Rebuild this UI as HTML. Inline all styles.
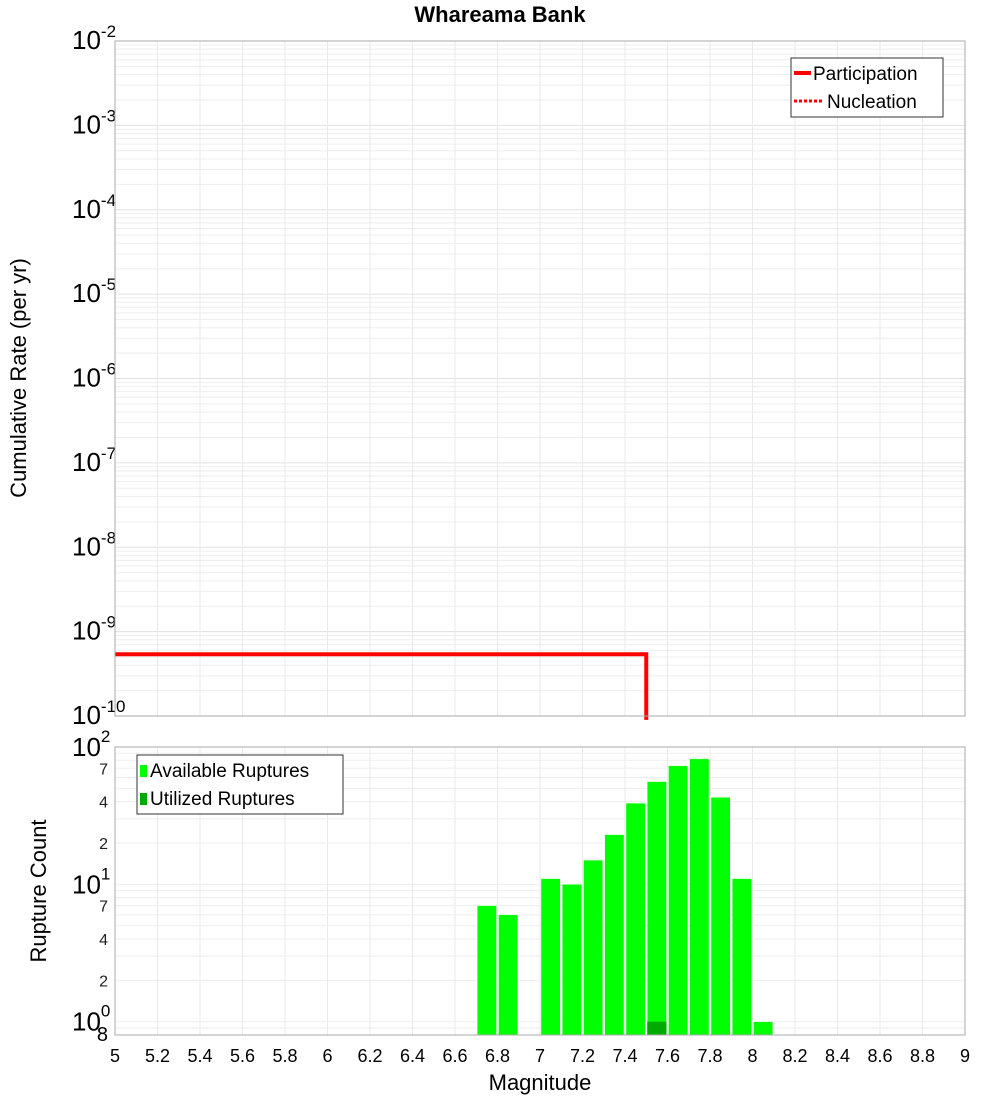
<!DOCTYPE html>
<html><head><meta charset="utf-8"><style>
body{margin:0;background:#fff;}
svg text{font-family:"Liberation Sans","DejaVu Sans",sans-serif;}
</style></head><body>
<svg id="c" width="1000" height="1100" xmlns="http://www.w3.org/2000/svg">
<text x="500" y="22" text-anchor="middle" font-size="22" font-weight="bold">Whareama Bank</text>
<g id="topg"></g>
<g id="botg"></g>
<text transform="translate(26,378) rotate(-90)" text-anchor="middle" font-size="22">Cumulative Rate (per yr)</text>
<text transform="translate(46,891) rotate(-90)" text-anchor="middle" font-size="22">Rupture Count</text>
<text x="540" y="1090" text-anchor="middle" font-size="22">Magnitude</text>
</svg>
<script>
const xTicks=[5,5.2,5.4,5.6,5.8,6,6.2,6.4,6.6,6.8,7,7.2,7.4,7.6,7.8,8,8.2,8.4,8.6,8.8,9];
const rateExps=[-2,-3,-4,-5,-6,-7,-8,-9,-10];
const partMags=[5,7.5,7.5];
const partRates=[5.4e-10,5.4e-10,9e-11];
const binCenters=[6.75,6.85,7.05,7.15,7.25,7.35,7.45,7.55,7.65,7.75,7.85,7.95,8.05];
const availCounts=[7,6,11,10,15,23,39,56,73,82,43,11,1];
const utilCenters=[7.55];
const utilCounts=[1];
const countMinorLabels=[2,4,7];

const NS="http://www.w3.org/2000/svg";
const X0=115,X1=965;
const T0=41,T1=716,B0=747,B1=1035;
const xs=m=>X0+(m-5)/4*(X1-X0);
const ysTop=v=>T1-(Math.log10(v)+10)/8*(T1-T0);
const ysBot=v=>B1-(Math.log10(v)-Math.log10(0.8))/(2-Math.log10(0.8))*(B1-B0);
function mk(p,t,a){const e=document.createElementNS(NS,t);for(const k in a)e.setAttribute(k,a[k]);p.appendChild(e);return e;}
const gTop=document.getElementById('topg'),gBot=document.getElementById('botg');

for(let d=-10;d<-2;d++)for(let k=1;k<10;k++){const y=ysTop(k*Math.pow(10,d));
 const l=mk(gTop,'line',{x1:X0,x2:X1,y1:y,y2:y,stroke:k==1?'#e0e0e0':'#eeeeee','stroke-width':1});
 
 }
xTicks.forEach(m=>{const l=mk(gTop,'line',{x1:xs(m),x2:xs(m),y1:T0,y2:T1,stroke:'#eaeaea'});
 
 
 const l2=mk(gBot,'line',{x1:xs(m),x2:xs(m),y1:B0,y2:B1,stroke:'#eaeaea'});
 
 });
rateExps.forEach(e=>{const y=ysTop(Math.pow(10,e));
 const t=mk(gTop,'text',{x:72,y:y+8,'font-size':26});
 
 
 t.innerHTML='10<tspan dy="-12" font-size="17">'+e+'</tspan>';});
const pl=mk(gTop,'polyline',{points:partMags.map((m,i)=>xs(m)+','+ysTop(partRates[i])).join(' '),fill:'none',stroke:'#ff0000','stroke-width':4});


mk(gTop,'rect',{x:X0,y:T0,width:X1-X0,height:T1-T0,fill:'none',stroke:'#aaaaaa'});
const lg=mk(gTop,'g',{});


mk(lg,'rect',{x:791,y:58,width:152,height:59,fill:'#fff',stroke:'#333'});
mk(lg,'line',{x1:794,x2:811,y1:73,y2:73,stroke:'red','stroke-width':4});
mk(lg,'line',{x1:794,x2:822,y1:101,y2:101,stroke:'red','stroke-width':3,'stroke-dasharray':'3,2'});
const lt1=mk(lg,'text',{x:813,y:80,'font-size':19});lt1.textContent='Participation';


const lt2=mk(lg,'text',{x:827,y:108,'font-size':19});lt2.textContent='Nucleation';



[0.8,0.9,1,2,3,4,5,6,7,8,9,10,20,30,40,50,60,70,80,90].forEach(v=>{const y=ysBot(v);
 const l=mk(gBot,'line',{x1:X0,x2:X1,y1:y,y2:y,stroke:'#eeeeee'});
 
 });
[1,10,100].forEach((v,i)=>{const y=ysBot(v);
 const t=mk(gBot,'text',{x:72,y:y+9,'font-size':26});
 
 
 t.innerHTML='10<tspan dy="-14" font-size="17">'+i+'</tspan>';});
[1,10].forEach(dec=>countMinorLabels.forEach(k=>{const t=mk(gBot,'text',{x:108,y:ysBot(k*dec)+6,'font-size':16,'text-anchor':'end',fill:'#222'});
 t.textContent=k;
 
 }));
const t8=mk(gBot,'text',{x:108,y:ysBot(0.8)+6,'font-size':20,'text-anchor':'end'});t8.textContent='8';


binCenters.forEach((m,i)=>{const y=ysBot(availCounts[i]);
 const r=mk(gBot,'rect',{x:xs(m-0.05)+1,y:y,width:xs(m+0.05)-xs(m-0.05)-2,height:B1-y,fill:'#00ff00',stroke:'#ddffdd','stroke-width':0.5});
 
 });
utilCenters.forEach((m,i)=>{const y=ysBot(utilCounts[i]);
 const r=mk(gBot,'rect',{x:xs(m-0.05)+1,y:y,width:xs(m+0.05)-xs(m-0.05)-2,height:B1-y,fill:'#00aa00'});
 
 });
mk(gBot,'rect',{x:X0,y:B0,width:X1-X0,height:B1-B0,fill:'none',stroke:'#aaaaaa'});
xTicks.forEach(m=>{const t=mk(gBot,'text',{x:xs(m),y:1062,'font-size':18,'text-anchor':'middle'});
 t.textContent=String(m);
 
 });
const lb=mk(gBot,'g',{});


mk(lb,'rect',{x:137,y:755,width:206,height:59,fill:'#fff',stroke:'#333'});
mk(lb,'rect',{x:140,y:765,width:7,height:12,fill:'#00ff00'});
mk(lb,'rect',{x:140,y:793,width:7,height:12,fill:'#00aa00'});
const b1=mk(lb,'text',{x:150,y:777,'font-size':19});b1.textContent='Available Ruptures';


const b2=mk(lb,'text',{x:150,y:805,'font-size':19});b2.textContent='Utilized Ruptures';


</script>
</body></html>
